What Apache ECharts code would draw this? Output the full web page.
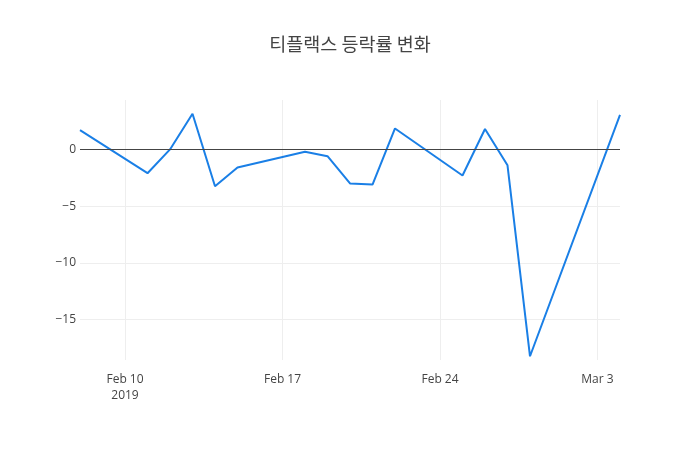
<!DOCTYPE html>
<html>
<head>
<meta charset="utf-8">
<script src="https://cdn.jsdelivr.net/npm/echarts@6/dist/echarts.min.js"></script>
<style>
  html,body{margin:0;padding:0;background:#fff;}
  #chart{width:700px;height:450px;}
</style>
</head>
<body>
<div id="chart"></div>
<script>
  // 거래일별 등락률 (%)
  var dates = ['2019-02-08','2019-02-11','2019-02-12','2019-02-13','2019-02-14','2019-02-15',
               '2019-02-18','2019-02-19','2019-02-20','2019-02-21','2019-02-22',
               '2019-02-25','2019-02-26','2019-02-27','2019-02-28','2019-03-04'];
  var changeRate = [1.7,-2.1,0.0,3.15,-3.25,-1.6,-0.2,-0.6,-3.0,-3.1,1.85,-2.3,1.8,-1.4,-18.25,3.05];
  var xTicks = ['2019-02-10','2019-02-17','2019-02-24','2019-03-03'];
  var yTicks = [-15,-10,-5,0];

  function ts(s){
    var p = s.split('-');
    return new Date(+p[0], +p[1]-1, +p[2]).getTime();
  }
  var months = ['Jan','Feb','Mar','Apr','May','Jun','Jul','Aug','Sep','Oct','Nov','Dec'];

  var myChart = echarts.init(document.getElementById('chart'));
  var option = {
    backgroundColor:'#fff',
    animation:false,
    title:{
      text:'티플랙스 등락률 변화',
      left:'center',
      top:30,
      textStyle:{
        fontFamily:'"Noto Sans CJK KR","Open Sans",sans-serif',
        fontSize:18.5,
        fontWeight:'normal',
        color:'#444'
      }
    },
    grid:{left:80,right:80,top:100,bottom:90},
    xAxis:{
      type:'value',
      min:ts('2019-02-08'),
      max:ts('2019-03-04'),
      axisLine:{show:false},
      axisTick:{show:false, customValues:xTicks.map(ts)},
      splitLine:{show:true,lineStyle:{color:'#eee',width:1}},
      axisLabel:{
        customValues:xTicks.map(ts),
        margin:12,
        color:'#444',
        fontFamily:'"Open Sans",sans-serif',
        fontSize:12,
        lineHeight:16,
        formatter:function(v){
          var d = new Date(v);
          var s = months[d.getMonth()] + ' ' + d.getDate();
          if(d.getMonth()===1 && d.getDate()===10) s += '\n' + d.getFullYear();
          return s;
        }
      }
    },
    yAxis:{
      type:'value',
      min:-18.58,
      max:4.36,
      axisLine:{show:false},
      axisTick:{show:false, customValues:yTicks},
      splitLine:{show:true,lineStyle:{color:'#eee',width:1}},
      axisLabel:{
        customValues:yTicks,
        margin:4,
        color:'#444',
        fontFamily:'"Open Sans",sans-serif',
        fontSize:12,
        formatter:function(v){
          return v < 0 ? '\u2212' + Math.abs(v) : String(v);
        }
      }
    },
    series:[{
      type:'line',
      data:dates.map(function(d,i){return [ts(d),changeRate[i]];}),
      showSymbol:false,
      lineStyle:{color:'#1a7fe6',width:2},
      itemStyle:{color:'#1a7fe6'},
      markLine:{
        silent:true,
        symbol:'none',
        label:{show:false},
        lineStyle:{color:'#444',width:1,type:'solid'},
        data:[{yAxis:0}]
      }
    }]
  };
  myChart.setOption(option);
</script>
</body>
</html>
